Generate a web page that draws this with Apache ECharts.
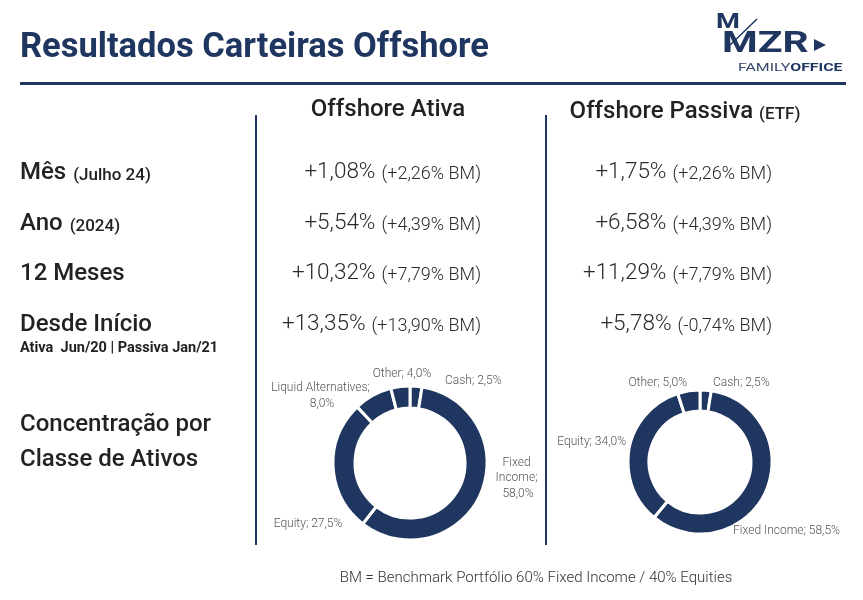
<!DOCTYPE html>
<html>
<head>
<meta charset="utf-8">
<script src="https://cdn.jsdelivr.net/npm/echarts@6/dist/echarts.min.js"></script>
<style>
  html, body { margin: 0; padding: 0; background: #fff; }
  #chart { width: 863px; height: 600px; }
</style>
</head>
<body>
<div id="chart"></div>
<script>
// ---- dados ----
const periodos = ['Mês', 'Ano', '12 Meses', 'Desde Início'];
const periodosSub = ['(Julho 24)', '(2024)', '', ''];
const ativaRet = [1.08, 5.54, 10.32, 13.35];
const ativaBM = [2.26, 4.39, 7.79, 13.90];
const passivaRet = [1.75, 6.58, 11.29, 5.78];
const passivaBM = [2.26, 4.39, 7.79, -0.74];

const classesAtiva = ['Cash', 'Fixed Income', 'Equity', 'Liquid Alternatives', 'Other'];
const pesosAtiva = [2.5, 58.0, 27.5, 8.0, 4.0];
const classesPassiva = ['Cash', 'Fixed Income', 'Equity', 'Other'];
const pesosPassiva = [2.5, 58.5, 34.0, 5.0];

// ---- estilo / layout ----
const NAVY = '#1f3660';
const FONT = 'Roboto, "Noto Sans", sans-serif';
const rowY = [171, 222, 272, 323];
const colAtivaRight = 481;
const colPassivaRight = 772;

// posições dos rótulos das fatias [x, y, align]
const labelPosAtiva = [
    [445, 381, 'left'],
    [518, 478, 'center'],
    [308, 524, 'center'],
    [322, 396, 'center'],
    [402, 374, 'center']
];
const labelPosPassiva = [
    [713, 383, 'left'],
    [733, 531, 'left'],
    [626, 442, 'right'],
    [687, 383, 'right']
];
const labelWidthAtiva = { 'Fixed Income': 50, 'Liquid Alternatives': 104 };

function fmtPct(v, casas) {
    return v.toFixed(casas).replace('.', ',') + '%';
}
function fmtRet(v) {
    return (v >= 0 ? '+' : '') + fmtPct(v, 2);
}

const chart = echarts.init(document.getElementById('chart'));

const g = [];
function txt(x, y, text, style, extra) {
    g.push(Object.assign({
        type: 'text', x, y, silent: true,
        style: Object.assign({
            text, fill: '#222', fontFamily: FONT,
            align: 'left', verticalAlign: 'middle',
            textAlign: 'left', textVerticalAlign: 'middle'
        }, style)
    }, extra || {}));
}
function line(x1, y1, x2, y2, w, color) {
    g.push({
        type: 'line', silent: true,
        shape: { x1, y1, x2, y2 },
        style: { stroke: color || NAVY, lineWidth: w }
    });
}

// título + régua
txt(20, 48, 'Resultados Carteiras Offshore', { fontSize: 34.5, fontWeight: 'bold', fill: NAVY });
line(20, 83.5, 846, 83.5, 3);

// logo
txt(716, 23, 'M', { fontSize: 21, fontWeight: 'bold', fill: NAVY }, { scaleX: 1.3 });
txt(722, 44, 'MZR', { fontSize: 30, fontWeight: 'bold', fill: NAVY }, { scaleX: 1.36 });
line(725, 50, 757, 19, 1.5);
g.push({
    type: 'polygon', silent: true,
    shape: { points: [[814, 39], [814, 51], [826, 45]] },
    style: { fill: NAVY }
});
txt(738, 68, '{a|FAMILY}{b|OFFICE}', {
    rich: {
        a: { fontSize: 11.5, fontFamily: FONT, fill: '#34476a' },
        b: { fontSize: 11.5, fontFamily: FONT, fontWeight: 'bold', fill: NAVY }
    }
}, { scaleX: 1.38 });

// separadores verticais
line(256, 115, 256, 545, 2);
line(546, 115, 546, 545, 2);

// cabeçalhos
txt(388, 110, 'Offshore Ativa', { fontSize: 24, fontWeight: 500, align: 'center', textAlign: 'center' });
txt(685, 110, '{a|Offshore Passiva }{b|(ETF)}', {
    align: 'center', textAlign: 'center',
    rich: {
        a: { fontSize: 24, fontWeight: 500, fontFamily: FONT, fill: '#222', lineHeight: 28, verticalAlign: 'bottom' },
        b: { fontSize: 17, fontWeight: 500, fontFamily: FONT, fill: '#222', lineHeight: 20, verticalAlign: 'bottom', padding: [0, 0, 1, 0] }
    }
});

// linhas da tabela
const richLabel = {
    a: { fontSize: 24, fontWeight: 500, fontFamily: FONT, fill: '#222', lineHeight: 28, verticalAlign: 'bottom' },
    b: { fontSize: 17, fontWeight: 500, fontFamily: FONT, fill: '#222', lineHeight: 20, verticalAlign: 'bottom', padding: [0, 0, 1, 4] }
};
const richValor = {
    a: { fontSize: 22.5, fontWeight: 300, fontFamily: FONT, fill: '#2a2a2a', lineHeight: 26, verticalAlign: 'bottom' },
    b: { fontSize: 18, fontWeight: 300, fontFamily: FONT, fill: '#2a2a2a', lineHeight: 21, verticalAlign: 'bottom', padding: [0, 0, 1, 6] }
};
periodos.forEach((p, i) => {
    const sub = periodosSub[i] ? ' {b|' + periodosSub[i] + '}' : '';
    txt(20, rowY[i], '{a|' + p + '}' + sub, { rich: richLabel });
    txt(colAtivaRight, rowY[i], '{a|' + fmtRet(ativaRet[i]) + '}{b|(' + fmtRet(ativaBM[i]) + ' BM)}',
        { rich: richValor, align: 'right', textAlign: 'right' });
    txt(colPassivaRight, rowY[i], '{a|' + fmtRet(passivaRet[i]) + '}{b|(' + fmtRet(passivaBM[i]) + ' BM)}',
        { rich: richValor, align: 'right', textAlign: 'right' });
});
txt(20, 348, 'Ativa  Jun/20 | Passiva Jan/21', { fontSize: 14.5, fontWeight: 'bold' });

txt(20, 425, 'Concentração por', { fontSize: 24, fontWeight: 500 });
txt(20, 460, 'Classe de Ativos', { fontSize: 24, fontWeight: 500 });

// rodapé
txt(536, 578, 'BM = Benchmark Portfólio 60% Fixed Income / 40% Equities',
    { fontSize: 15, fontWeight: 300, fill: '#333', align: 'center', textAlign: 'center' });

function pieSeries(nomes, pesos, center, radius, pos, larguras) {
    return {
        type: 'pie',
        center, radius,
        startAngle: 90,
        clockwise: true,
        silent: true,
        avoidLabelOverlap: false,
        itemStyle: { color: NAVY, borderColor: '#fff', borderWidth: 3 },
        label: {
            show: true,
            position: 'outside',
            fontFamily: FONT, fontSize: 12, fontWeight: 300, color: '#555',
            lineHeight: 15.5,
            formatter: p => p.name + '; ' + fmtPct(p.value, 1)
        },
        labelLine: { show: false },
        labelLayout: p => {
            const s = pos[p.dataIndex];
            return { x: s[0], y: s[1], align: s[2], verticalAlign: 'middle' };
        },
        emphasis: { disabled: true },
        data: nomes.map((n, i) => {
            const d = { name: n, value: pesos[i] };
            if (larguras && larguras[n]) {
                d.label = { width: larguras[n], overflow: 'break', align: 'center' };
            }
            return d;
        })
    };
}

chart.setOption({
    backgroundColor: '#fff',
    animation: false,
    graphic: { elements: g },
    series: [
        pieSeries(classesAtiva, pesosAtiva, [410, 463], [55, 77], labelPosAtiva, labelWidthAtiva),
        pieSeries(classesPassiva, pesosPassiva, [700, 462], [51, 72], labelPosPassiva, null)
    ]
});
</script>
</body>
</html>
